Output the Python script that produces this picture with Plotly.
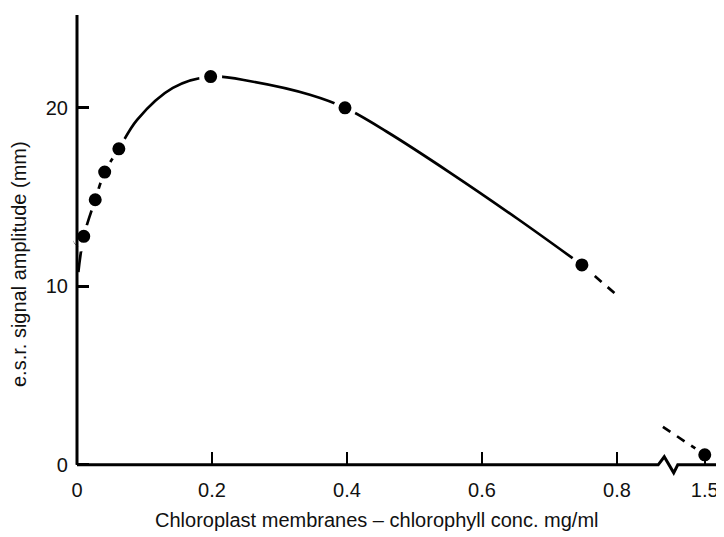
import plotly.graph_objects as go

# ---- data ----
conc = [0.004, 0.010, 0.027, 0.041, 0.062, 0.198, 0.397, 0.748, 1.5]
amp = [12.6, 12.8, 14.85, 16.4, 17.7, 21.75, 20.0, 11.2, 0.56]

# hand-drawn smooth curve through the points
curve_x = [0.002, 0.010, 0.027, 0.041, 0.062, 0.089, 0.142, 0.198,
           0.261, 0.345, 0.397, 0.459, 0.553, 0.652, 0.748]
curve_y = [10.8, 12.8, 14.85, 16.4, 17.7, 19.33, 21.12, 21.75,
           21.46, 20.73, 20.0, 18.66, 16.36, 13.8, 11.2]

# dashed extrapolations
dash1_x = [0.748, 0.80]
dash1_y = [11.2, 9.5]
dash2_x = [1.438, 1.5]
dash2_y = [2.13, 0.56]

x_ticks = [0, 0.2, 0.4, 0.6, 0.8, 1.5]
x_ticklabels = ["0", "0.2", "0.4", "0.6", "0.8", "1.5"]
y_ticks = [0, 10, 20]
y_ticklabels = ["0", "10", "20"]

# axis break: values beyond the break are shifted to sit just after 0.8
BREAK_POS = 0.93      # display position of 1.5
BREAK_AT = 1.0


def disp(x):
    return x if x < BREAK_AT else BREAK_POS + (x - 1.5)


FONT = "Liberation Sans, Arial, sans-serif"
X0, X1 = -0.01037, 0.9585
Y0, Y1 = -1.187, 25.2
W, H = 716, 529
ML, MT, MB = 62, 7, 51
PW, PH = W - ML, H - MT - MB

fig = go.Figure()

fig.add_trace(go.Scatter(x=[disp(v) for v in curve_x], y=curve_y, mode="lines",
                         line=dict(color="black", width=2.7, shape="spline", smoothing=1.0),
                         hoverinfo="skip", showlegend=False))
fig.add_trace(go.Scatter(x=[disp(v) for v in dash1_x], y=dash1_y, mode="lines",
                         line=dict(color="black", width=2.7, dash="9px,8px"),
                         hoverinfo="skip", showlegend=False))
fig.add_trace(go.Scatter(x=[disp(v) for v in dash2_x], y=dash2_y, mode="lines",
                         line=dict(color="black", width=2.7, dash="9px,8px"),
                         hoverinfo="skip", showlegend=False))
fig.add_trace(go.Scatter(x=[disp(v) for v in conc], y=amp, mode="markers",
                         marker=dict(color="black", size=18, line=dict(color="white", width=5)),
                         showlegend=False))

# axis lines (x axis with break zigzag)
zz = [BREAK_POS - 0.069, BREAK_POS - 0.060, BREAK_POS - 0.046, BREAK_POS - 0.040]
path = (f"M 0,0 L {zz[0]},0 L {zz[1]},0.45 L {zz[2]},-0.45 L {zz[3]},0 L {X1},0")
fig.add_shape(type="path", path=path, xref="x", yref="y",
              line=dict(color="black", width=3), layer="above")
fig.add_shape(type="line", x0=0, x1=0, y0=0, y1=Y1, xref="x", yref="y",
              line=dict(color="black", width=3), layer="above")

fig.update_layout(
    width=W, height=H,
    margin=dict(l=ML, r=0, t=MT, b=MB),
    paper_bgcolor="white", plot_bgcolor="white",
    font=dict(family=FONT, size=20, color="#111"),
    xaxis=dict(range=[X0, X1], showgrid=False, zeroline=False, showline=False,
               tickvals=[disp(v) for v in x_ticks], ticktext=x_ticklabels,
               ticks="inside", ticklen=13, tickwidth=2, tickcolor="black",
               anchor="free", position=(0 - Y0) / (Y1 - Y0),
               ticklabelstandoff=11, automargin=False,
               tickfont=dict(family=FONT, size=20, color="#111"), layer="above traces"),
    yaxis=dict(range=[Y0, Y1], showgrid=False, zeroline=False, showline=False,
               tickvals=y_ticks, ticktext=y_ticklabels,
               ticks="inside", ticklen=11, tickwidth=3, tickcolor="black",
               anchor="free", position=(0 - X0) / (X1 - X0),
               ticklabelstandoff=9, automargin=False,
               tickfont=dict(family=FONT, size=20, color="#111"), layer="above traces"),
    annotations=[
        dict(text="Chloroplast membranes – chlorophyll conc. mg/ml", xref="paper", yref="paper",
             x=(369 - ML) / PW, y=(MT + PH - 512) / PH, showarrow=False,
             xanchor="center", yanchor="middle", font=dict(family=FONT, size=20, color="#111")),
        dict(text="e.s.r. signal amplitude (mm)", xref="paper", yref="paper",
             x=(11 - ML) / PW, y=(MT + PH - 256) / PH, showarrow=False, textangle=-90,
             xanchor="center", yanchor="middle", font=dict(family=FONT, size=20, color="#111")),
    ],
)

fig.write_html("out.html")
